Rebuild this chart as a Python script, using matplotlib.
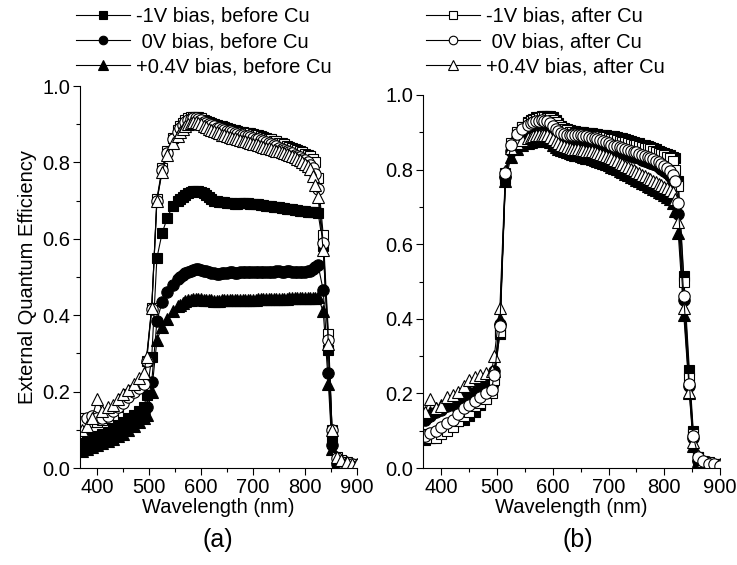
import matplotlib
matplotlib.use("Agg")
import matplotlib.pyplot as plt
from matplotlib.lines import Line2D
from matplotlib.ticker import MultipleLocator

plt.rcParams["font.family"] = ["Liberation Sans", "DejaVu Sans"]

# ---- Data ----
# wavelength grid: 10 nm below 500, 5 nm on the plateau, ~10 nm on the falling edge
wl = [370, 380, 390, 400, 410, 420, 430, 440, 450, 460, 470, 480, 490, 495,
      505, 515, 525, 535, 545, 555,
      560, 565, 570, 575, 580, 585, 590, 595, 600, 605,
      610, 615, 620, 625, 630, 635, 640, 645, 650, 655,
      660, 665, 670, 675, 680, 685, 690, 695, 700, 705,
      710, 715, 720, 725, 730, 735, 740, 745, 750, 755,
      760, 765, 770, 775, 780, 785, 790, 795, 800, 805,
      810, 815, 820, 825,
      835, 845, 852, 861, 870, 880, 890, 900]

# panel (a)
sq_fill_a = [0.065, 0.075, 0.08, 0.085, 0.09, 0.095, 0.105, 0.11, 0.12, 0.13, 0.14, 0.15, 0.16, 0.19,
             0.29, 0.55, 0.615, 0.655, 0.685, 0.70,
             0.705, 0.71, 0.715, 0.72, 0.722, 0.724, 0.725, 0.724, 0.722, 0.72,
             0.715, 0.71, 0.705, 0.70, 0.698, 0.697, 0.697, 0.696, 0.695, 0.694,
             0.693, 0.692, 0.692, 0.693, 0.694, 0.694, 0.693, 0.692, 0.69, 0.69,
             0.69, 0.689, 0.688, 0.687, 0.686, 0.685, 0.684, 0.683, 0.682, 0.681,
             0.68, 0.679, 0.678, 0.677, 0.676, 0.675, 0.674, 0.673, 0.672, 0.671,
             0.67, 0.67, 0.67, 0.668,
             0.58, 0.31, 0.07, 0.01, 0.0, 0.0, 0.0, 0.0]
ci_fill_a = [0.05, 0.06, 0.065, 0.07, 0.075, 0.08, 0.09, 0.095, 0.105, 0.115, 0.125, 0.135, 0.145, 0.16,
             0.225, 0.385, 0.435, 0.46, 0.48, 0.495,
             0.50, 0.505, 0.51, 0.513, 0.516, 0.518, 0.52, 0.52, 0.519, 0.517,
             0.515, 0.513, 0.511, 0.51, 0.509, 0.509, 0.51, 0.51, 0.511, 0.512,
             0.512, 0.511, 0.511, 0.512, 0.513, 0.514, 0.514, 0.513, 0.512, 0.512,
             0.513, 0.514, 0.514, 0.514, 0.513, 0.513, 0.514, 0.515, 0.515, 0.514,
             0.514, 0.515, 0.515, 0.514, 0.514, 0.514, 0.513, 0.513, 0.514, 0.515,
             0.517, 0.52, 0.525, 0.532,
             0.465, 0.25, 0.06, 0.01, 0.0, 0.0, 0.0, 0.0]
tr_fill_a = [0.045, 0.05, 0.055, 0.06, 0.065, 0.07, 0.075, 0.085, 0.09, 0.10, 0.11, 0.12, 0.13, 0.14,
             0.20, 0.335, 0.37, 0.39, 0.41, 0.423,
             0.428, 0.432, 0.436, 0.439, 0.441, 0.442, 0.443, 0.443, 0.442, 0.441,
             0.44, 0.44, 0.439, 0.438, 0.438, 0.438, 0.439, 0.439, 0.44, 0.44,
             0.44, 0.44, 0.441, 0.441, 0.441, 0.441, 0.441, 0.441, 0.441, 0.441,
             0.442, 0.442, 0.442, 0.442, 0.442, 0.443, 0.443, 0.443, 0.443, 0.443,
             0.443, 0.443, 0.444, 0.444, 0.444, 0.444, 0.444, 0.444, 0.444, 0.445,
             0.445, 0.445, 0.446, 0.447,
             0.41, 0.22, 0.05, 0.005, 0.0, 0.0, 0.0, 0.0]
sq_open_a = [0.13, 0.12, 0.12, 0.12, 0.125, 0.13, 0.14, 0.16, 0.18, 0.195, 0.205, 0.215, 0.23, 0.28,
             0.42, 0.705, 0.785, 0.83, 0.865, 0.885,
             0.895, 0.903, 0.91, 0.915, 0.918, 0.92, 0.92, 0.918, 0.915, 0.912,
             0.908, 0.905, 0.902, 0.90, 0.898, 0.896, 0.894, 0.892, 0.89, 0.888,
             0.886, 0.884, 0.882, 0.88, 0.879, 0.878, 0.877, 0.876, 0.875, 0.873,
             0.871, 0.869, 0.867, 0.865, 0.862, 0.86, 0.857, 0.855, 0.852, 0.85,
             0.847, 0.844, 0.841, 0.838, 0.835, 0.832, 0.829, 0.826, 0.823, 0.82,
             0.816, 0.81, 0.80, 0.76,
             0.61, 0.35, 0.10, 0.03, 0.02, 0.015, 0.01, 0.01]
ci_open_a = [0.12, 0.13, 0.135, 0.13, 0.13, 0.135, 0.15, 0.16, 0.17, 0.185, 0.20, 0.21, 0.22, 0.28,
             0.415, 0.70, 0.78, 0.825, 0.86, 0.88,
             0.89, 0.898, 0.905, 0.91, 0.914, 0.916, 0.916, 0.914, 0.911, 0.907,
             0.903, 0.90, 0.897, 0.894, 0.891, 0.889, 0.887, 0.885, 0.883, 0.881,
             0.879, 0.877, 0.875, 0.873, 0.871, 0.87, 0.868, 0.866, 0.864, 0.862,
             0.86, 0.858, 0.855, 0.853, 0.85, 0.848, 0.845, 0.842, 0.839, 0.836,
             0.833, 0.83, 0.827, 0.824, 0.82, 0.817, 0.813, 0.809, 0.805, 0.80,
             0.794, 0.785, 0.77, 0.73,
             0.59, 0.335, 0.10, 0.025, 0.015, 0.01, 0.01, 0.005]
tr_open_a = [0.10, 0.11, 0.13, 0.18, 0.15, 0.16, 0.165, 0.18, 0.195, 0.205, 0.22, 0.235, 0.25, 0.29,
             0.42, 0.70, 0.775, 0.82, 0.85, 0.87,
             0.88, 0.888, 0.895, 0.90, 0.903, 0.905, 0.905, 0.903, 0.90, 0.896,
             0.892, 0.888, 0.885, 0.882, 0.879, 0.876, 0.873, 0.871, 0.869, 0.867,
             0.865, 0.863, 0.861, 0.859, 0.857, 0.855, 0.853, 0.851, 0.849, 0.847,
             0.845, 0.843, 0.841, 0.839, 0.837, 0.835, 0.833, 0.831, 0.829, 0.827,
             0.825, 0.822, 0.819, 0.816, 0.813, 0.81, 0.806, 0.802, 0.797, 0.79,
             0.782, 0.765, 0.74, 0.71,
             0.57, 0.325, 0.10, 0.03, 0.02, 0.015, 0.01, 0.01]

# panel (b)
sq_fill_b = [0.075, 0.08, 0.09, 0.10, 0.11, 0.12, 0.125, 0.13, 0.14, 0.15, 0.17, 0.19, 0.215, 0.25,
             0.36, 0.775, 0.86, 0.895, 0.915, 0.928,
             0.932, 0.936, 0.94, 0.942, 0.944, 0.945, 0.945, 0.944, 0.94, 0.932,
             0.925, 0.918, 0.912, 0.908, 0.906, 0.904, 0.903, 0.902, 0.901, 0.90,
             0.899, 0.898, 0.897, 0.896, 0.895, 0.894, 0.893, 0.892, 0.891, 0.89,
             0.889, 0.888, 0.886, 0.884, 0.881, 0.879, 0.877, 0.875, 0.872, 0.87,
             0.867, 0.865, 0.863, 0.86, 0.857, 0.854, 0.851, 0.848, 0.845, 0.842,
             0.838, 0.835, 0.832, 0.77,
             0.514, 0.263, 0.10, 0.03, 0.01, 0.005, 0.0, 0.0]
ci_fill_b = [0.13, 0.14, 0.15, 0.155, 0.165, 0.17, 0.175, 0.185, 0.19, 0.20, 0.21, 0.215, 0.22, 0.26,
             0.385, 0.78, 0.85, 0.885, 0.90, 0.91,
             0.915, 0.918, 0.92, 0.921, 0.922, 0.921, 0.919, 0.915, 0.908, 0.90,
             0.893, 0.888, 0.885, 0.883, 0.882, 0.882, 0.882, 0.882, 0.881, 0.879,
             0.877, 0.875, 0.873, 0.871, 0.869, 0.866, 0.863, 0.86, 0.857, 0.854,
             0.851, 0.849, 0.847, 0.844, 0.842, 0.839, 0.837, 0.835, 0.833, 0.83,
             0.827, 0.824, 0.821, 0.818, 0.815, 0.811, 0.807, 0.802, 0.797, 0.79,
             0.782, 0.772, 0.755, 0.68,
             0.45, 0.22, 0.08, 0.02, 0.01, 0.005, 0.0, 0.0]
tr_fill_b = [0.14, 0.15, 0.16, 0.17, 0.18, 0.185, 0.19, 0.20, 0.21, 0.215, 0.225, 0.23, 0.235, 0.26,
             0.40, 0.77, 0.835, 0.855, 0.865, 0.87,
             0.873, 0.876, 0.878, 0.879, 0.88, 0.88, 0.878, 0.873, 0.867, 0.861,
             0.856, 0.852, 0.849, 0.846, 0.844, 0.842, 0.84, 0.838, 0.836, 0.834,
             0.832, 0.83, 0.828, 0.826, 0.823, 0.82, 0.817, 0.814, 0.811, 0.808,
             0.805, 0.801, 0.797, 0.793, 0.789, 0.785, 0.781, 0.777, 0.773, 0.769,
             0.765, 0.761, 0.757, 0.753, 0.749, 0.745, 0.741, 0.736, 0.731, 0.726,
             0.72, 0.71, 0.69, 0.63,
             0.41, 0.20, 0.06, 0.02, 0.01, 0.005, 0.0, 0.0]
sq_open_b = [0.09, 0.08, 0.08, 0.09, 0.10, 0.11, 0.125, 0.14, 0.15, 0.165, 0.175, 0.185, 0.20, 0.235,
             0.365, 0.79, 0.87, 0.90, 0.915, 0.925,
             0.93, 0.933, 0.936, 0.938, 0.94, 0.94, 0.939, 0.937, 0.933, 0.927,
             0.92, 0.914, 0.909, 0.905, 0.902, 0.90, 0.898, 0.897, 0.896, 0.895,
             0.894, 0.893, 0.892, 0.891, 0.89, 0.889, 0.888, 0.887, 0.885, 0.883,
             0.881, 0.879, 0.877, 0.875, 0.873, 0.871, 0.869, 0.867, 0.865, 0.863,
             0.861, 0.859, 0.857, 0.854, 0.851, 0.848, 0.845, 0.842, 0.839, 0.835,
             0.83, 0.822, 0.80, 0.755,
             0.50, 0.24, 0.09, 0.03, 0.02, 0.015, 0.01, 0.01]
ci_open_b = [0.085, 0.095, 0.10, 0.11, 0.12, 0.13, 0.145, 0.16, 0.17, 0.18, 0.19, 0.20, 0.21, 0.25,
             0.38, 0.79, 0.865, 0.895, 0.91, 0.92,
             0.925, 0.928, 0.93, 0.931, 0.932, 0.931, 0.929, 0.925, 0.918, 0.91,
             0.903, 0.898, 0.895, 0.893, 0.892, 0.892, 0.893, 0.893, 0.892, 0.891,
             0.89, 0.888, 0.886, 0.884, 0.882, 0.879, 0.876, 0.873, 0.87, 0.867,
             0.864, 0.862, 0.86, 0.857, 0.855, 0.852, 0.85, 0.848, 0.846, 0.843,
             0.84, 0.837, 0.834, 0.831, 0.828, 0.824, 0.82, 0.815, 0.81, 0.803,
             0.795, 0.785, 0.77, 0.71,
             0.46, 0.225, 0.085, 0.03, 0.02, 0.01, 0.01, 0.005]
tr_open_b = [0.15, 0.185, 0.16, 0.165, 0.19, 0.195, 0.205, 0.22, 0.235, 0.245, 0.25, 0.255, 0.26, 0.30,
             0.43, 0.795, 0.857, 0.872, 0.88, 0.886,
             0.888, 0.89, 0.892, 0.893, 0.894, 0.894, 0.892, 0.888, 0.882, 0.876,
             0.871, 0.866, 0.863, 0.86, 0.858, 0.856, 0.855, 0.854, 0.853, 0.852,
             0.851, 0.85, 0.849, 0.847, 0.845, 0.842, 0.839, 0.836, 0.833, 0.83,
             0.826, 0.822, 0.818, 0.814, 0.81, 0.806, 0.802, 0.798, 0.794, 0.79,
             0.786, 0.782, 0.778, 0.774, 0.77, 0.766, 0.762, 0.758, 0.754, 0.75,
             0.746, 0.74, 0.72, 0.66,
             0.43, 0.205, 0.07, 0.035, 0.02, 0.015, 0.01, 0.01]

labels_before = ["-1V bias, before Cu", " 0V bias, before Cu", "+0.4V bias, before Cu"]
labels_after = ["-1V bias, after Cu", " 0V bias, after Cu", "+0.4V bias, after Cu"]

FS = 14.5
MS = {"s": 7.6, "o": 8.2, "^": 8.8}


def draw(ax, y, marker, filled):
    ax.plot(wl, y, color="k", lw=0.8, marker=marker, ms=MS[marker],
            mfc="k" if filled else "w", mec="k", mew=0.8)


def style(ax):
    for side in ("top", "right"):
        ax.spines[side].set_visible(False)
    for side in ("left", "bottom"):
        ax.spines[side].set_linewidth(0.8)
    ax.set_xlim(367, 900)
    ax.set_ylim(0, 1.0)
    ax.xaxis.set_major_locator(MultipleLocator(100))
    ax.xaxis.set_minor_locator(MultipleLocator(50))
    ax.yaxis.set_major_locator(MultipleLocator(0.2))
    ax.yaxis.set_minor_locator(MultipleLocator(0.1))
    ax.tick_params(which="major", direction="out", length=5, width=0.8,
                   labelsize=FS, pad=2)
    ax.tick_params(which="minor", direction="out", length=3, width=0.8)
    ax.set_xlabel("Wavelength (nm)", fontsize=FS, labelpad=1)


fig = plt.figure(figsize=(7.37, 5.65), dpi=100)
ax_a = fig.add_axes([80 / 737, 1 - 468 / 565, 277 / 737, 382 / 565])
ax_b = fig.add_axes([423 / 737, 1 - 468 / 565, 297 / 737, 373 / 565])

# panel (a)
draw(ax_a, sq_fill_a, "s", True)
draw(ax_a, ci_fill_a, "o", True)
draw(ax_a, tr_fill_a, "^", True)
draw(ax_a, sq_open_a, "s", False)
draw(ax_a, ci_open_a, "o", False)
draw(ax_a, tr_open_a, "^", False)

# panel (b)
draw(ax_b, tr_fill_b, "^", True)
draw(ax_b, ci_fill_b, "o", True)
draw(ax_b, sq_fill_b, "s", True)
draw(ax_b, sq_open_b, "s", False)
draw(ax_b, tr_open_b, "^", False)
draw(ax_b, ci_open_b, "o", False)

style(ax_a)
style(ax_b)
ax_a.set_ylabel("External Quantum Efficiency", fontsize=FS, labelpad=4)

fig.text(218 / 737, 1 - 540 / 565, "(a)", fontsize=18, ha="center", va="center")
fig.text(578 / 737, 1 - 540 / 565, "(b)", fontsize=18, ha="center", va="center")

# legends above the panels
def handles(filled):
    return [Line2D([], [], color="k", lw=0.8, marker=m, ms=MS[m] * 0.75,
                   mfc="k" if filled else "w", mec="k", mew=0.8)
            for m in ("s", "o", "^")]

leg_kw = dict(loc="upper left", frameon=False, fontsize=FS, handlelength=2.7,
              handletextpad=0.3, labelspacing=0.3, borderpad=0, borderaxespad=0)
fig.legend(handles(True), labels_before, bbox_to_anchor=(76 / 737, 1 - 7 / 565), **leg_kw)
fig.legend(handles(False), labels_after, bbox_to_anchor=(426 / 737, 1 - 7 / 565), **leg_kw)

plt.savefig("out.png", dpi=100)
